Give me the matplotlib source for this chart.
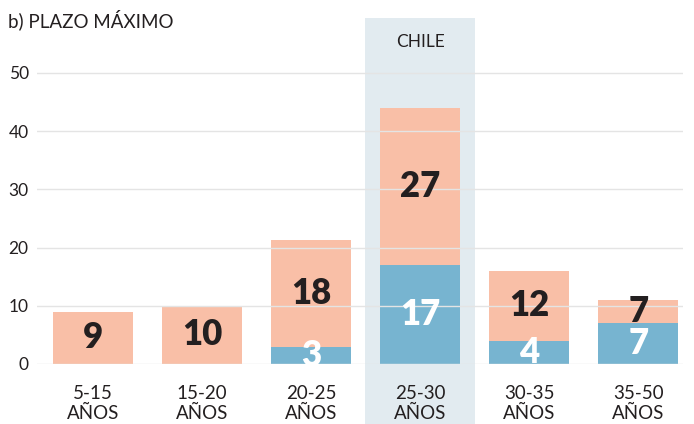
import matplotlib.pyplot as plt
from matplotlib.patches import Rectangle
import matplotlib.transforms as mtransforms

plt.rcParams['font.family'] = ['Lato', 'DejaVu Sans']

# datos
categorias = ["5-15\nAÑOS", "15-20\nAÑOS", "20-25\nAÑOS", "25-30\nAÑOS", "30-35\nAÑOS", "35-50\nAÑOS"]
azul = [0, 0, 3, 17, 4, 7]
naranja = [9, 10, 18.3, 27, 12, 4]
etiquetas_azul = [None, None, 3, 17, 4, 7]
etiquetas_naranja = [9, 10, 18, 27, 12, 7]
destacado = 3  # CHILE

c_naranja = "#f9bfa7"
c_azul = "#77b4d0"
c_fondo = "#e2ebf0"
c_texto = "#231f20"

fig = plt.figure(figsize=(6.94, 4.24), dpi=100)
ax = fig.add_axes([37 / 694, 60 / 424, (683 - 37) / 694, 346 / 424])

x = list(range(len(categorias)))

# banda de Chile (baja hasta las etiquetas)
trans = mtransforms.blended_transform_factory(ax.transData, ax.transAxes)
ax.add_patch(Rectangle((destacado - 0.505, -0.18), 1.01, 1.18, transform=trans,
                       facecolor=c_fondo, edgecolor="none", clip_on=False, zorder=0))
ax.text(destacado, 0.93, "CHILE", transform=trans, ha="center", va="center",
        fontsize=12.5, color=c_texto)

ax.bar(x, azul, width=0.735, color=c_azul, zorder=2)
ax.bar(x, naranja, width=0.735, bottom=azul, color=c_naranja, zorder=2)

# líneas de grilla sobre las barras
for v in range(0, 60, 10):
    ax.axhline(v, color="#e4e4e4", lw=1, zorder=3)

for i in x:
    if etiquetas_azul[i] is not None:
        ax.text(i, azul[i] / 2, str(etiquetas_azul[i]), ha="center", va="center",
                fontsize=25, fontweight="heavy", color="white", zorder=4)
    ax.text(i, azul[i] + naranja[i] / 2, str(etiquetas_naranja[i]), ha="center", va="center",
            fontsize=25, fontweight="heavy", color=c_texto, zorder=4)

ax.set_xlim(-0.514, 5.41)
ax.set_ylim(0, 59.45)
ax.set_yticks(range(0, 60, 10))
ax.set_xticks(x)
ax.set_xticklabels(categorias, fontsize=13.5, color=c_texto, linespacing=1.25)
ax.tick_params(axis="x", length=0, pad=15)
ax.tick_params(axis="y", length=0, pad=6, labelsize=12.5, labelcolor=c_texto)
for s in ax.spines.values():
    s.set_visible(False)

fig.text(8 / 694, 1 - 20 / 424, "b) PLAZO MÁXIMO", fontsize=13.5, color=c_texto,
         ha="left", va="center")

fig.savefig("out.png", dpi=100)
